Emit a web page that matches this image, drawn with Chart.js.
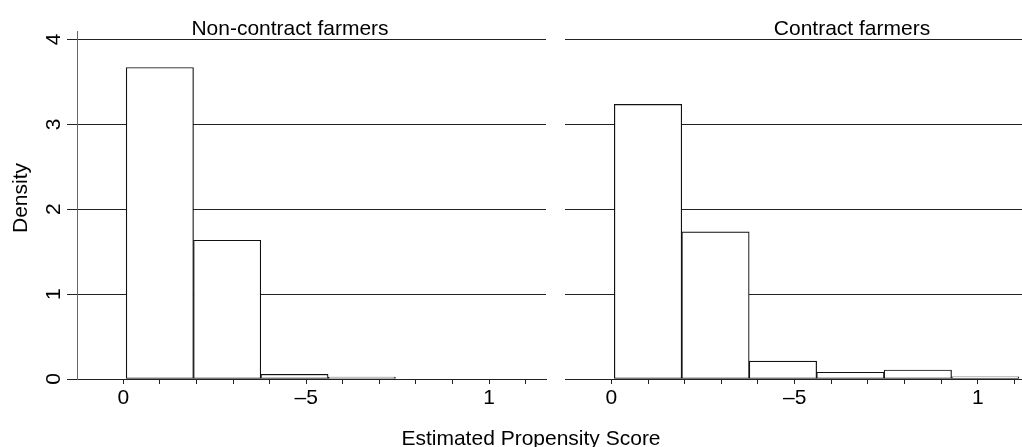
<!DOCTYPE html>
<html>
<head>
<meta charset="utf-8">
<script src="https://cdn.jsdelivr.net/npm/chart.js@4"></script>
<style>
  body { margin: 0; width: 1022px; height: 447px; overflow: hidden; background: #fff; position: relative; font-family: "Liberation Sans", Arial, sans-serif; }
  #left { position: absolute; left: 0; top: 0; }
  #right { position: absolute; left: 563px; top: 0; }
  #xtitle { position: absolute; left: 0; width: 1062px; top: 426px; text-align: center; font-size: 21px; color: #000; }
</style>
</head>
<body>
<canvas id="left" width="548" height="447"></canvas>
<canvas id="right" width="480" height="447"></canvas>
<div id="xtitle">Estimated Propensity Score</div>
<script>
// histogram bins (propensity score)
const binEdges = [0.008, 0.192, 0.376, 0.560, 0.744, 0.928, 1.112];
const nonContractDensity = [3.67, 1.635, 0.055, 0.022];
const contractDensity = [3.235, 1.733, 0.21, 0.08, 0.106, 0.025];

const xTickValues = [0, 0.5, 1];
const xTickText = ['0', '–5', '1'];
const yTickValues = [0, 1, 2, 3, 4];

const xMin = -0.1265, xMax = 1.1557;
const FONT = '21px "Liberation Sans", Arial, sans-serif';

function toBars(vals) {
  return vals.map((v, i) => ({ x: (binEdges[i] + binEdges[i + 1]) / 2, y: v }));
}

// titles, rotated y tick labels and "Density"
const panelText = {
  id: 'panelText',
  afterDraw(chart, args, o) {
    const ctx = chart.ctx;
    ctx.save();
    ctx.fillStyle = '#000';
    ctx.font = FONT;
    ctx.textAlign = 'center';
    ctx.textBaseline = 'alphabetic';
    ctx.fillText(o.title, o.titleX, 35);
    if (o.yLabels) {
      const y = chart.scales.y;
      y.ticks.forEach(t => {
        ctx.save();
        ctx.translate(54, y.getPixelForValue(t.value));
        ctx.rotate(-Math.PI / 2);
        ctx.textBaseline = 'middle';
        ctx.fillText(String(t.value), 0, 0);
        ctx.restore();
      });
      ctx.save();
      ctx.translate(21, 198);
      ctx.rotate(-Math.PI / 2);
      ctx.textBaseline = 'middle';
      ctx.fillText('Density', 0, 0);
      ctx.restore();
    }
    ctx.restore();
  }
};

function makePanel(id, values, title, titleX, isLeft) {
  return new Chart(document.getElementById(id), {
    type: 'bar',
    data: {
      datasets: [{
        data: toBars(values),
        xAxisID: 'xb',
        backgroundColor: '#fff',
        borderColor: '#111',
        borderWidth: 1.2,
        borderSkipped: false,
        barPercentage: 1,
        categoryPercentage: 1
      }]
    },
    options: {
      responsive: false,
      animation: false,
      layout: { padding: { top: 31, right: isLeft ? 2 : 8, left: 0, bottom: 0 } },
      plugins: {
        legend: { display: false },
        tooltip: { enabled: false },
        panelText: { title: title, titleX: titleX, yLabels: isLeft }
      },
      scales: {
        xb: {
          type: 'linear', display: false, min: xMin, max: xMax, offset: false,
          grid: { offset: false },
          ticks: { stepSize: 1 }
        },
        x: {
          type: 'linear', min: xMin, max: xMax, offset: false,
          afterFit(s) { s.height = 68; },
          afterBuildTicks(s) { s.ticks = s.ticks.filter(t => t.value >= -1e-9 && t.value <= xMax); },
          border: { display: true, color: '#222', width: 1 },
          grid: { offset: false, drawOnChartArea: false, drawTicks: true, tickLength: 5, color: '#222' },
          ticks: {
            stepSize: 0.1, includeBounds: false, autoSkip: false, maxRotation: 0, minRotation: 0,
            maxTicksLimit: 100, padding: 2, color: '#000',
            font: { family: '"Liberation Sans", Arial, sans-serif', size: 21 },
            callback(v) {
              const i = xTickValues.findIndex(t => Math.abs(t - v) < 1e-6);
              return i >= 0 ? xTickText[i] : '';
            }
          }
        },
        y: {
          type: 'linear', min: 0, max: 4.1,
          afterFit(s) { s.width = isLeft ? 77 : 2; },
          afterBuildTicks(s) { s.ticks = yTickValues.map(v => ({ value: v })); },
          border: { display: isLeft, color: '#666', width: 1 },
          grid: { color: '#222', lineWidth: 1, drawTicks: isLeft, tickLength: 10 },
          ticks: { display: false, stepSize: 1, includeBounds: false }
        }
      }
    },
    plugins: [panelText]
  });
}

makePanel('left', nonContractDensity, 'Non-contract farmers', 290, true);
makePanel('right', contractDensity, 'Contract farmers', 289, false);
</script>
</body>
</html>
